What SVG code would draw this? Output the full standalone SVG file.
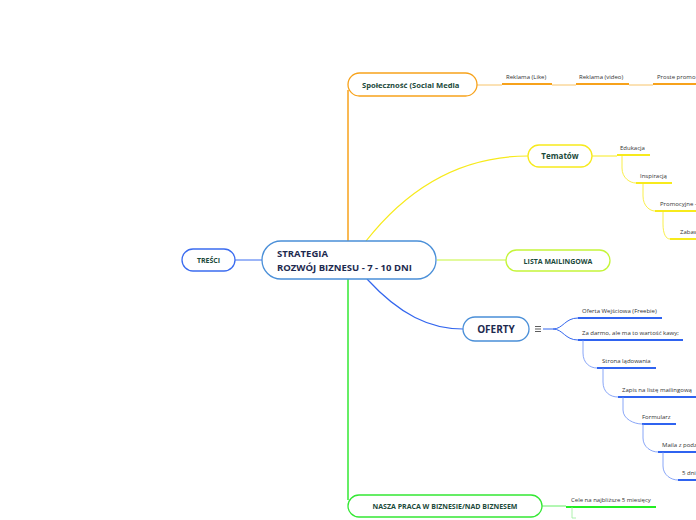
<svg xmlns="http://www.w3.org/2000/svg" width="696" height="520" viewBox="0 0 696 520">
<style>
.node{fill:#fff;stroke-width:1.3}
.t{font-family:"Open Sans","Noto Sans",sans-serif;font-weight:bold;fill:#1b4a3b}
.s{font-family:"Open Sans","Noto Sans",sans-serif;font-size:6px;fill:#333}
.c{fill:none}
.u{fill:none;stroke-width:2}
</style>
<rect width="696" height="520" fill="#fff"/>
<g id="connectors">
  <path class="c" d="M348,241 V90" stroke="#f7a21b" stroke-width="1.5"/>
  <path class="c" d="M477,85 H502" stroke="#f7c46a" stroke-width="1"/>
  <path class="c" d="M552,85 H576 M629,85 H653" stroke="#f7c46a" stroke-width="1"/>
  <path class="u" d="M502,84 H552 M576,84 H629 M653,84 H696" stroke="#f7a21b"/>
  <path class="c" d="M366,241 C410,185 465,156 528,156" stroke="#f7ea1c" stroke-width="1.2"/>
  <path class="c" d="M592,156 H617" stroke="#f7ea1c" stroke-width="1"/>
  <path class="u" d="M617,155 H650 M636,183 H672 M655,211 H696 M670,239 H696" stroke="#f7ea1c"/>
  <path class="c" d="M622,155 V168 C622,178 630,183 636,183 M643,183 V196 C643,206 650,211 655,211 M663,211 V224 C663,234 666,239 670,239" stroke="#f7ea1c" stroke-width="0.8"/>
  <path class="c" d="M437,260 H506" stroke="#c5f53a" stroke-width="1.2"/>
  <path class="c" d="M235,260 H262" stroke="#3b6cf0" stroke-width="1"/>
  <path class="c" d="M367,279 C400,315 430,329 463,329" stroke="#3366ee" stroke-width="1.2"/>
  <path class="c" d="M543,329 H553 C563,329 565,318 578,318 M553,329 C563,329 565,340 578,340" stroke="#3366ee" stroke-width="1"/>
  <path class="u" d="M578,318 H662 M578,340 H683 M597,368 H656 M618,397 H696 M642,424 H676 M658,452 H696 M678,480 H696" stroke="#2f63f0"/>
  <path class="c" d="M583,340 V353 C583,363 590,368 597,368 M603,368 V382 C603,392 610,397 618,397 M623,397 V410 C623,419 634,424 642,424 M643,424 V438 C643,447 651,452 658,452 M663,452 V466 C663,475 671,480 678,480" stroke="#6b8ff5" stroke-width="0.8"/>
  <path class="c" d="M348,279 V500" stroke="#33e833" stroke-width="1.5"/>
  <path class="c" d="M542,506 H566" stroke="#66ee66" stroke-width="1"/>
  <path class="u" d="M566,507 H656" stroke="#22ee22"/>
  <path class="c" d="M572,507 V518 H576" stroke="#99ee99" stroke-width="0.8"/>
</g>
<g id="center">
  <rect class="node" x="262" y="241" width="174" height="38" rx="19" stroke="#4a8fd8"/>
  <text class="t" x="277" y="257" font-size="9.5" style="fill:#1d2a4f">STRATEGIA</text>
  <text class="t" x="277" y="271" font-size="9.5" style="fill:#1d2a4f">ROZWÓJ BIZNESU - 7 - 10 DNI</text>
</g>
<g id="tresci">
  <rect class="node" x="182" y="249" width="53" height="22" rx="11" stroke="#3b6cf0"/>
  <text class="t" x="208.5" y="263" font-size="7" text-anchor="middle">TREŚCI</text>
</g>
<g id="social">
  <rect class="node" x="348" y="73" width="129" height="23" rx="11.5" stroke="#f7a21b"/>
  <text class="t" x="362" y="88" font-size="7.6">Społeczność (Social Media</text>
  <text class="s" x="506" y="79">Reklama (Like)</text>
  <text class="s" x="579" y="79">Reklama (video)</text>
  <text class="s" x="657" y="79">Proste promo</text>
</g>
<g id="tematow">
  <rect class="node" x="528" y="145" width="64" height="22" rx="11" stroke="#f7ea1c"/>
  <text class="t" x="560" y="159" font-size="8" text-anchor="middle">Tematów</text>
  <text class="s" x="620" y="150">Edukacja</text>
  <text class="s" x="640" y="178">Inspiracją</text>
  <text class="s" x="660" y="206">Promocyjne -</text>
  <text class="s" x="680" y="234">Zabawa</text>
</g>
<g id="lista">
  <rect class="node" x="506" y="250" width="104" height="21" rx="10.5" stroke="#c5f53a"/>
  <text class="t" x="558" y="263.5" font-size="7" text-anchor="middle">LISTA MAILINGOWA</text>
</g>
<g id="oferty">
  <rect class="node" x="463" y="317" width="66" height="24" rx="12" stroke="#4a8fd8"/>
  <text class="t" x="496" y="333" font-size="10" text-anchor="middle" style="fill:#1d2a4f">OFERTY</text>
  <path d="M535,326.5 H541 M535,329 H541 M535,331.5 H541" stroke="#333" stroke-width="0.8"/>
  <text class="s" x="582" y="313">Oferta Wejściowa (Freebie)</text>
  <text class="s" x="582" y="335">Za darmo, ale ma to wartość kawy;</text>
  <text class="s" x="602" y="363">Strona lądowania</text>
  <text class="s" x="622" y="392">Zapis na listę mailingową</text>
  <text class="s" x="642" y="419">Formularz</text>
  <text class="s" x="662" y="447">Maila z podziękowaniem</text>
  <text class="s" x="682" y="475">5 dni</text>
</g>
<g id="nasza">
  <rect class="node" x="348" y="495" width="194" height="22" rx="11" stroke="#33e833"/>
  <text class="t" x="445" y="509" font-size="7" text-anchor="middle">NASZA PRACA W BIZNESIE/NAD BIZNESEM</text>
  <text class="s" x="571" y="502">Cele na najbliższe 5 miesięcy</text>
</g>
</svg>
